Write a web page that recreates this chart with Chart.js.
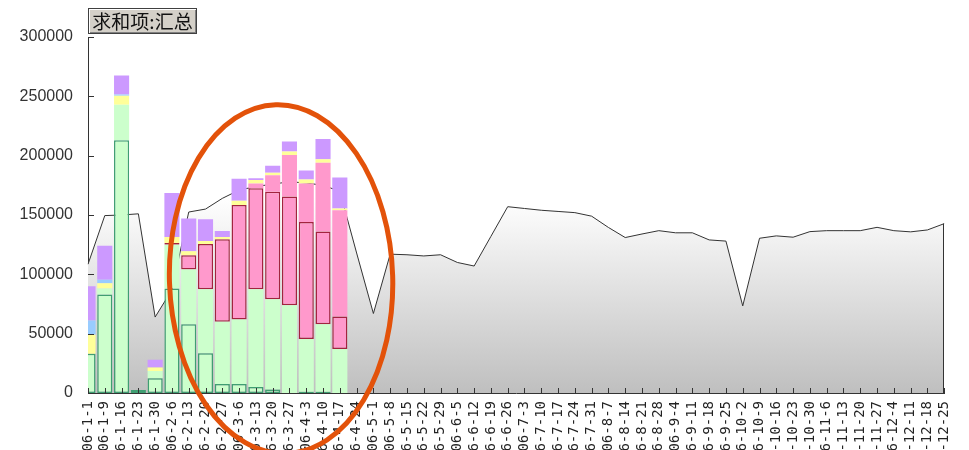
<!DOCTYPE html>
<html>
<head>
<meta charset="utf-8">
<script src="https://cdn.jsdelivr.net/npm/chart.js@4.4.1/dist/chart.umd.min.js"></script>
<style>
    html, body { margin: 0; padding: 0; background: #fff; overflow: hidden; }
    #wrap { position: relative; width: 969px; height: 450px; }
    #fieldButton {
        position: absolute; left: 88px; top: 8px; width: 107px; height: 24px;
        background: #d4d0c8; border: 1px solid #404040;
        box-shadow: inset 1px 1px 0 #ffffff, inset -1px -1px 0 #808080;
        font: 19px "Noto Sans CJK SC", sans-serif; line-height: 24px; color: #111;
        text-align: center; white-space: nowrap;
    }
</style>
</head>
<body>
<div id="wrap">
    <canvas id="weeklyChart" width="969" height="450"></canvas>
    <div id="fieldButton">求和项:汇总</div>
</div>
<script>
// Semanas (eixo X)
const weekLabels = ['2006-1-1', '2006-1-9', '2006-1-16', '2006-1-23', '2006-1-30', '2006-2-6', '2006-2-13',
    '2006-2-20', '2006-2-27', '2006-3-6', '2006-3-13', '2006-3-20', '2006-3-27', '2006-4-3', '2006-4-10',
    '2006-4-17', '2006-4-24', '2006-5-1', '2006-5-8', '2006-5-15', '2006-5-22', '2006-5-29', '2006-6-5',
    '2006-6-12', '2006-6-19', '2006-6-26', '2006-7-3', '2006-7-10', '2006-7-17', '2006-7-24', '2006-7-31',
    '2006-8-7', '2006-8-14', '2006-8-21', '2006-8-28', '2006-9-4', '2006-9-11', '2006-9-18', '2006-9-25',
    '2006-10-2', '2006-10-9', '2006-10-16', '2006-10-23', '2006-10-30', '2006-11-6', '2006-11-13',
    '2006-11-20', '2006-11-27', '2006-12-4', '2006-12-11', '2006-12-18', '2006-12-25'];

// Barras empilhadas (só as primeiras 16 semanas têm dados)
const greenBoxed = [33000, 83000, 213000, 2500, 12500, 88000, 58000, 33500, 7500, 7500, 5000, 3000, null, 1000, 1000, null];
const greenLight = [null, 5000, 30000, null, 6000, 37000, 46000, 54000, 52500, 54500, 82500, 76000, 74000, 44500, 57000, 37000];
const pinkBoxed = [null, null, null, null, null, 1500, 12000, 38000, 69500, 96500, 85000, 90500, 91500, 98500, 78000, 27500];
const pinkLight = [null, null, null, null, null, null, null, null, null, null, 4000, 14000, 35000, 32500, 58000, 89500];
const yellowPart = [16000, 4500, 7500, null, 3000, 5000, 3500, 2500, 2000, 3500, 3000, 2000, 3000, 3500, 3000, 1500];
const bluePart = [12000, 3000, 1000];
const purplePart = [29000, 28500, 16000, null, 6500, 37000, 27500, 18500, 5000, 18500, 1500, 6000, 8500, 7500, 17000, 26000];

// Área cinza (total semanal)
const weeklyTotal = [108500, 149500, 150000, 151000, 64000, 87000, 152500, 155000, 164000, 171000, 174000,
    176000, 178000, 177000, 175000, 170000, 118000, 67000, 117000, 116500, 115500, 116500, 110000, 107000,
    132000, 157000, 155500, 154000, 153000, 152000, 149000, 139500, 131000, 134000, 136800, 135000, 135000,
    129000, 128000, 73400, 130400, 132400, 131300, 136000, 136800, 136800, 136800, 139600, 136800, 135800,
    137400, 142700];

const yTicks = [0, 50000, 100000, 150000, 200000, 250000, 300000];

// Elipse laranja (em unidades do gráfico: índice da categoria e valor)
const ringCenter = [11.5, 96000];
const ringRadius = [6.65, 147000];

function barSet(label, data, fill, border) {
    return {
        type: 'bar', label: label, data: data, stack: 'bars', order: 1,
        backgroundColor: fill,
        borderColor: border || fill,
        borderWidth: border ? 1.5 : 0,
        borderSkipped: false,
        categoryPercentage: 0.9, barPercentage: 1
    };
}

// Marcas de escala para dentro e a elipse
const decorations = {
    id: 'decorations',
    afterDatasetsDraw(chart) {
        const { ctx, chartArea, scales: { x, y } } = chart;
        ctx.save();
        ctx.strokeStyle = '#333';
        ctx.lineWidth = 1;
        ctx.beginPath();
        x.ticks.forEach((t, i) => {
            const px = Math.round(x.getPixelForTick(i)) + 0.5;
            ctx.moveTo(px, chartArea.bottom);
            ctx.lineTo(px, chartArea.bottom - 5);
        });
        y.ticks.forEach((t, i) => {
            const py = Math.round(y.getPixelForTick(i)) + 0.5;
            ctx.moveTo(chartArea.left, py);
            ctx.lineTo(chartArea.left + 6, py);
        });
        // borda direita da área
        const lastX = Math.round(x.getPixelForValue(weeklyTotal.length - 1)) - 0.5;
        ctx.moveTo(lastX, y.getPixelForValue(weeklyTotal[weeklyTotal.length - 1]));
        ctx.lineTo(lastX, chartArea.bottom);
        ctx.stroke();
        ctx.restore();
    },
    afterDraw(chart) {
        const { ctx, scales: { x, y } } = chart;
        const cx = x.getPixelForValue(ringCenter[0]);
        const cy = y.getPixelForValue(ringCenter[1]);
        const rx = x.getPixelForValue(ringCenter[0] + ringRadius[0]) - cx;
        const ry = cy - y.getPixelForValue(ringCenter[1] + ringRadius[1]);
        ctx.save();
        ctx.strokeStyle = '#e3520a';
        ctx.lineWidth = 5;
        ctx.beginPath();
        ctx.ellipse(cx, cy, rx, ry, -0.03, 0, Math.PI * 2);
        ctx.stroke();
        ctx.restore();
    }
};

const ctx = document.getElementById('weeklyChart').getContext('2d');
const chart = new Chart(ctx, {
    data: {
        labels: weekLabels,
        datasets: [
            barSet('A', greenBoxed, '#ccffcc', '#3f9e72'),
            barSet('B', greenLight, '#ccffcc'),
            barSet('C', pinkBoxed, '#ff99cc', '#a3233f'),
            barSet('D', pinkLight, '#ff99cc'),
            barSet('E', yellowPart, '#ffff99'),
            barSet('F', bluePart, '#99ccff'),
            barSet('G', purplePart, '#cc99ff'),
            {
                type: 'line', label: '汇总', data: weeklyTotal, stack: 'total', order: 2,
                borderColor: '#333', borderWidth: 1, pointRadius: 0, tension: 0,
                fill: 'origin',
                backgroundColor: function (c) {
                    const area = c.chart.chartArea;
                    if (!area) return '#dddddd';
                    const yScale = c.chart.scales.y;
                    const g = c.chart.ctx.createLinearGradient(0, yScale.getPixelForValue(165000), 0, area.bottom);
                    g.addColorStop(0, '#ffffff');
                    g.addColorStop(1, '#bfbfbf');
                    return g;
                }
            }
        ]
    },
    options: {
        responsive: false,
        animation: false,
        layout: { padding: { top: 37, right: 14, left: 0, bottom: 0 } },
        plugins: { legend: { display: false }, tooltip: { enabled: false } },
        scales: {
            x: {
                stacked: true,
                offset: false,
                z: 1,
                grid: { display: false, drawTicks: false },
                border: { display: true, color: '#333', width: 1 },
                ticks: {
                    autoSkip: false, minRotation: 90, maxRotation: 90, padding: 8,
                    color: '#222', font: { family: 'DejaVu Sans Mono', size: 14 }
                },
                afterFit: function (s) { s.height = 57; }
            },
            y: {
                stacked: true,
                min: 0, max: 300000,
                z: 1,
                grid: { display: false, drawTicks: false },
                border: { display: true, color: '#333', width: 1 },
                afterBuildTicks: function (s) { s.ticks = yTicks.map(v => ({ value: v })); },
                ticks: {
                    padding: 15, color: '#333',
                    font: { family: 'Liberation Sans', size: 16 },
                    callback: value => String(value)
                },
                afterFit: function (s) { s.width = 88; }
            }
        }
    },
    plugins: [decorations]
});
</script>
</body>
</html>
